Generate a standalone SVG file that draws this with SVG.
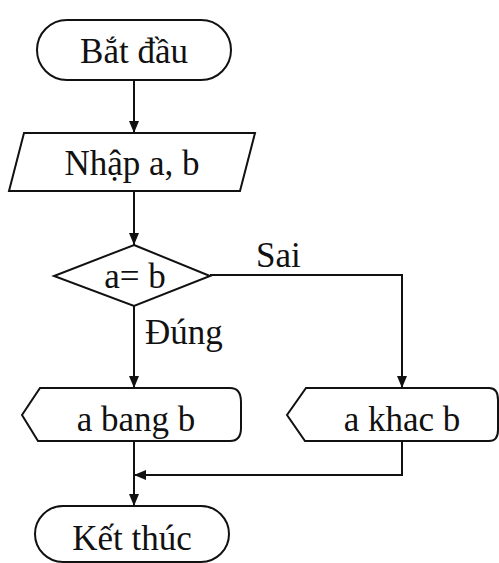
<svg xmlns="http://www.w3.org/2000/svg" width="499" height="563" viewBox="0 0 499 563">
<defs>
<marker id="arr" markerWidth="12" markerHeight="10" refX="12" refY="5" orient="auto" markerUnits="userSpaceOnUse">
<path d="M0,0 L12,5 L0,10 Z" fill="#111"/>
</marker>
<style>
.s{fill:#fff;stroke:#111;stroke-width:2}
.t{font-family:"Liberation Serif","Times New Roman",serif;font-size:35px;fill:#111;text-anchor:middle}
.l{font-family:"Liberation Serif","Times New Roman",serif;font-size:35px;fill:#111}
.c{fill:none;stroke:#111;stroke-width:2}
</style>
</defs>
<rect width="499" height="563" fill="#fff"/>
<g id="connectors">
<line class="c" x1="134" y1="80" x2="134" y2="133" marker-end="url(#arr)"/>
<line class="c" x1="134" y1="191" x2="134" y2="245" marker-end="url(#arr)"/>
<line class="c" x1="134" y1="306" x2="134" y2="388" marker-end="url(#arr)"/>
<polyline class="c" points="210,275 402,275 402,388" marker-end="url(#arr)"/>
<line class="c" x1="134" y1="441" x2="134" y2="506" marker-end="url(#arr)"/>
<polyline class="c" points="402,441 402,475 134,475" marker-end="url(#arr)"/>
<text class="l" x="256" y="267">Sai</text>
<text class="l" x="145" y="344">Đúng</text>
</g>
<g id="start">
<rect class="s" x="37" y="20" width="194" height="60" rx="30"/>
<text class="t" x="134" y="63">Bắt đầu</text>
</g>
<g id="input">
<polygon class="s" points="24,133 255,133 240,191 9,191"/>
<text class="t" x="132" y="175">Nhập a, b</text>
</g>
<g id="decision">
<polygon class="s" points="134,245 210,276 134,306 54,276"/>
<text class="t" x="135" y="288">a= b</text>
</g>
<g id="equal">
<path class="s" d="M40,388 L230,388 Q241,388 241,402 L241,428 Q241,441 230,441 L38,441 L22,415 Z"/>
<text class="t" x="136" y="431">a bang b</text>
</g>
<g id="notequal">
<path class="s" d="M306,388 L489,388 Q498,388 498,400 L498,430 Q498,441 489,441 L305,441 L287,415 Z"/>
<text class="t" x="402" y="431">a khac b</text>
</g>
<g id="end">
<rect class="s" x="35" y="506" width="194" height="56" rx="28"/>
<text class="t" x="132" y="550">Kết thúc</text>
</g>
</svg>
